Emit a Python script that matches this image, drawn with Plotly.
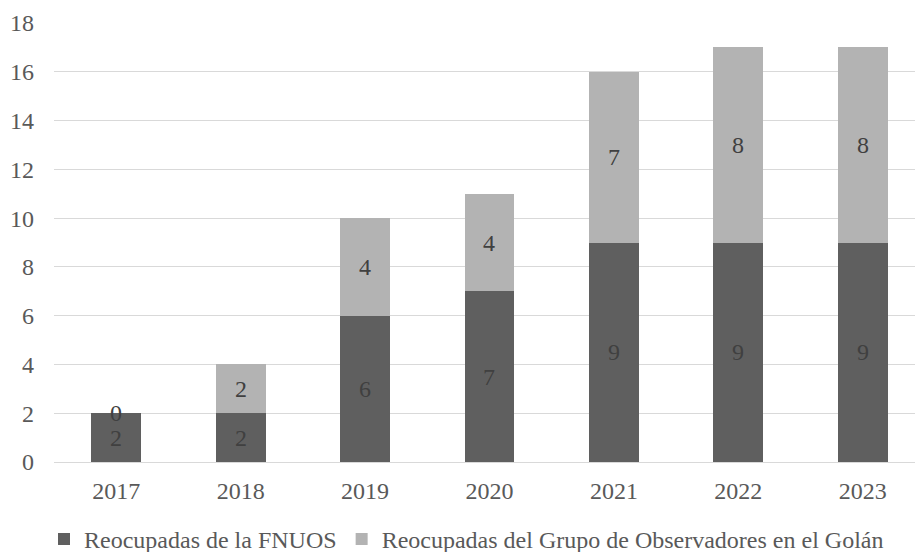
import plotly.graph_objects as go

years = ["2017", "2018", "2019", "2020", "2021", "2022", "2023"]
fnuos = [2, 2, 6, 7, 9, 9, 9]
golan = [0, 2, 4, 4, 7, 8, 8]
name_fnuos = "Reocupadas de la FNUOS"
name_golan = "Reocupadas del Grupo de Observadores en el Golán"
y_ticks = [0, 2, 4, 6, 8, 10, 12, 14, 16, 18]

FONT = "Liberation Serif"
dark = "#5f5f5f"
light = "#b3b3b3"

fig = go.Figure()
fig.add_trace(go.Bar(x=years, y=fnuos, name=name_fnuos, marker=dict(color=dark, line=dict(width=0)),
                     width=0.4, hoverinfo="x+y"))
fig.add_trace(go.Bar(x=years, y=golan, name=name_golan, marker=dict(color=light, line=dict(width=0)),
                     width=0.4, hoverinfo="x+y"))

for i, yr in enumerate(years):
    fig.add_annotation(x=i, y=fnuos[i] / 2, text=str(fnuos[i]), showarrow=False,
                       xref="x", yref="y",
                       font=dict(family=FONT, size=24, color="#404040"))
    fig.add_annotation(x=i, y=fnuos[i] + golan[i] / 2, text=str(golan[i]), showarrow=False,
                       xref="x", yref="y",
                       font=dict(family=FONT, size=24, color="#404040"))

fig.update_layout(
    barmode="stack",
    width=915, height=552,
    margin=dict(l=54, r=0, t=23, b=90, autoexpand=False),
    paper_bgcolor="white", plot_bgcolor="white",
    font=dict(family=FONT, size=24, color="#595959"),
    showlegend=True,
    legend=dict(orientation="h", x=-0.0116, xanchor="left", y=-0.125, yanchor="top",
                font=dict(family=FONT, size=24, color="#595959"),
                itemwidth=30, traceorder="normal", itemclick=False),
    xaxis=dict(type="category", range=[-0.5, 6.42], showgrid=False, showline=False, ticks="",
               ticklabelstandoff=12, automargin=False,
               tickfont=dict(family=FONT, size=24, color="#595959")),
    yaxis=dict(range=[0, 18], tickvals=y_ticks, showgrid=True, gridcolor="#d9d9d9", gridwidth=1,
               zeroline=True, zerolinecolor="#d9d9d9", zerolinewidth=1, ticks="",
               ticklabelstandoff=19, automargin=False,
               tickfont=dict(family=FONT, size=24, color="#595959")),
)

fig.write_html("out.html")
